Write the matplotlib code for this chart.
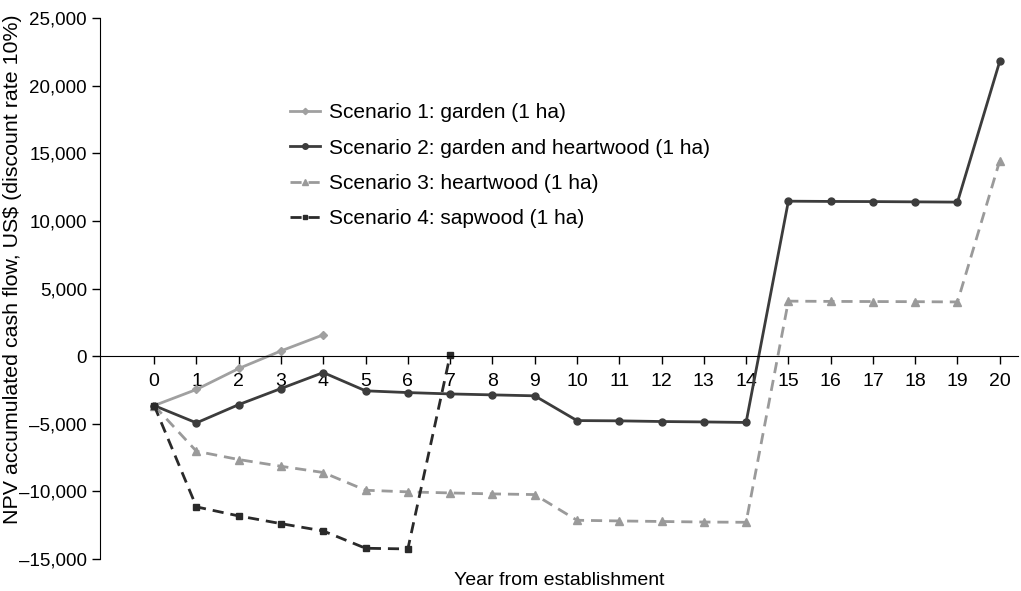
import matplotlib
matplotlib.use("Agg")
import matplotlib.pyplot as plt
from matplotlib.ticker import FuncFormatter

plt.rcParams['font.family'] = ['Liberation Sans', 'DejaVu Sans']

years = list(range(21))
# scenario 1 only runs to year 4, scenario 4 to year 7
s1_years = years[:5]
s1 = [-3650, -2460, -910, 390, 1580]
s2 = [-3650, -4930, -3580, -2390, -1210, -2560, -2690, -2790, -2860, -2930,
      -4760, -4780, -4830, -4860, -4900, 11460, 11440, 11430, 11410, 11390, 21800]
s3 = [-3650, -7030, -7640, -8140, -8600, -9910, -10030, -10110, -10180, -10230,
      -12130, -12180, -12220, -12260, -12280, 4070, 4050, 4040, 4030, 4010, 14450]
s4_years = years[:8]
s4 = [-3650, -11140, -11810, -12380, -12920, -14200, -14250, 70]

labels = ["Scenario 1: garden (1 ha)",
          "Scenario 2: garden and heartwood (1 ha)",
          "Scenario 3: heartwood (1 ha)",
          "Scenario 4: sapwood (1 ha)"]

fig = plt.figure(figsize=(10.21, 5.91), dpi=100)
ax = fig.add_axes([0.098, 0.054, 0.899, 0.9155])

ax.plot(s1_years, s1, color="#a0a0a0", lw=2, marker="D", ms=4, label=labels[0])
ax.plot(years, s2, color="#3c3c3c", lw=2, marker="o", ms=5, label=labels[1])
ax.plot(years, s3, color="#9a9a9a", lw=2, ls=(0, (4, 2.5)), marker="^", ms=6, label=labels[2])
ax.plot(s4_years, s4, color="#2a2a2a", lw=2, ls=(0, (4, 2.5)), marker="s", ms=4, label=labels[3])

ax.set_xlim(-1.28, 20.43)
ax.set_ylim(-15000, 25000)
ax.set_yticks(range(-15000, 25001, 5000))
ax.yaxis.set_major_formatter(FuncFormatter(lambda v, p: "{:,.0f}".format(v).replace("-", "\u2013")))
ax.set_xticks(years)

ax.spines['top'].set_visible(False)
ax.spines['right'].set_visible(False)
ax.spines['bottom'].set_position(('data', 0))
ax.tick_params(axis='both', labelsize=14, direction='out', length=6, width=1)
ax.tick_params(axis='y', labelsize=13.5)
ax.tick_params(axis='x', pad=6)

ax.set_ylabel("NPV accumulated cash flow, US$ (discount rate 10%)", fontsize=15.4)
ax.yaxis.set_label_coords(-0.085, 0.536)
fig.text(0.548, 0.018, "Year from establishment", fontsize=14, ha="center", va="center")

ax.legend(loc="upper left", bbox_to_anchor=(0.186, 0.877), frameon=False, fontsize=15,
          handlelength=1.45, handletextpad=0.45, labelspacing=0.78, markerscale=0.8)

fig.savefig("out.png", dpi=100)
